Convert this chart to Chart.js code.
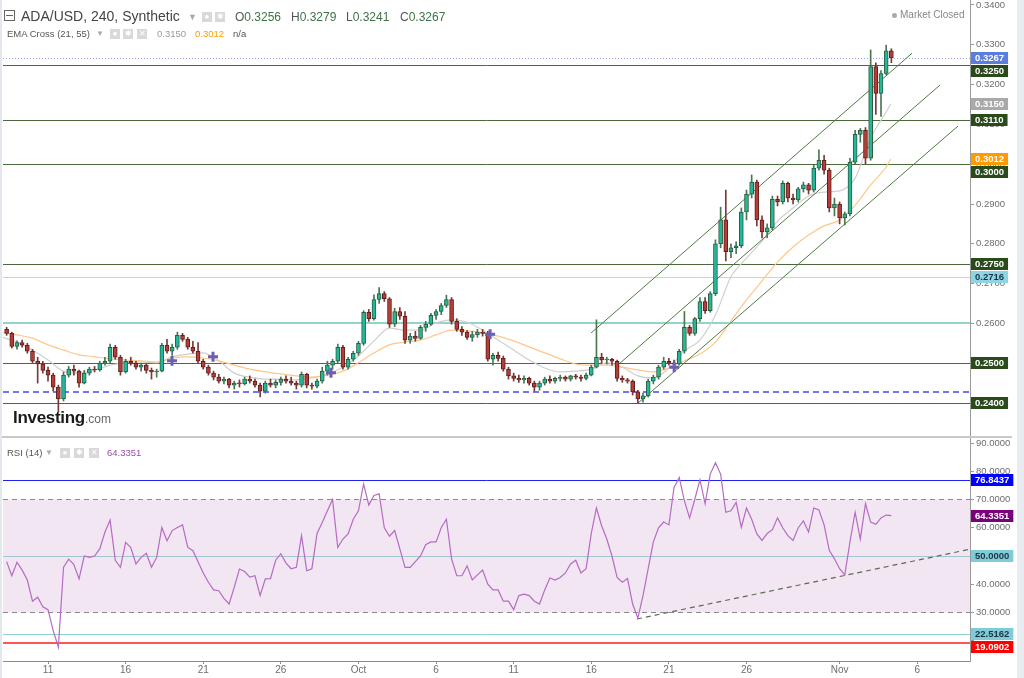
<!DOCTYPE html>
<html>
<head>
<meta charset="utf-8">
<title>ADA/USD, 240</title>
<script src="https://cdn.jsdelivr.net/npm/chart.js@4.4.1/dist/chart.umd.min.js"></script>
<style>
  html, body { margin: 0; padding: 0; background: #fff; }
  #wrap { position: relative; width: 1024px; height: 678px; overflow: hidden;
          font-family: "Liberation Sans", Arial, sans-serif; }
  #wrap canvas { position: absolute; left: 0; }
  #price { top: 0; }
  #rsi { top: 437px; }
  .sep { position: absolute; left: 0; top: 436px; width: 1012px; height: 2px; background: #c9c9c9; }
  .edge-l { position: absolute; left: 0; top: 0; width: 2px; height: 678px; background: #e3e8ee; }
  .edge-r { position: absolute; left: 1017px; top: 0; width: 7px; height: 678px; background: #e8ecf1; }
  .t { position: absolute; white-space: nowrap; color: #555; line-height: 1; }
  .ico { position: absolute; width: 10px; height: 10px; background: #d9d9d9; color: #fff;
         font-size: 8px; line-height: 10px; text-align: center; }
  .val { color: #3f7246; }
</style>
</head>
<body>
<div id="wrap">
  <canvas id="price" width="1018" height="437"></canvas>
  <canvas id="rsi" width="1018" height="241"></canvas>
  <div class="sep"></div>
  <div class="edge-l"></div>
  <div class="edge-r"></div>

  <!-- price header -->
  <div style="position:absolute;left:4px;top:10px;width:9px;height:9px;border:1px solid #666;"></div>
  <div style="position:absolute;left:6px;top:15px;width:7px;height:1px;background:#666;"></div>
  <div class="t" style="left:21px;top:9px;font-size:14px;color:#444;">ADA/USD, 240, Synthetic</div>
  <div class="t" style="left:188px;top:13px;font-size:9px;color:#aaa;">▼</div>
  <div class="ico" style="left:202px;top:12px;">●</div>
  <div class="ico" style="left:215px;top:12px;">✱</div>
  <div class="t" style="left:235px;top:11px;font-size:12px;">O<span class="val">0.3256</span></div>
  <div class="t" style="left:291px;top:11px;font-size:12px;">H<span class="val">0.3279</span></div>
  <div class="t" style="left:346px;top:11px;font-size:12px;">L<span class="val">0.3241</span></div>
  <div class="t" style="left:400px;top:11px;font-size:12px;">C<span class="val">0.3267</span></div>

  <div class="t" style="left:7px;top:29px;font-size:9.5px;">EMA Cross (21, 55)</div>
  <div class="t" style="left:96px;top:30px;font-size:8px;color:#aaa;">▼</div>
  <div class="ico" style="left:110px;top:29px;">●</div>
  <div class="ico" style="left:123px;top:29px;">✱</div>
  <div class="ico" style="left:137px;top:29px;">✕</div>
  <div class="t" style="left:157px;top:29px;font-size:9.5px;color:#9a9a9a;">0.3150</div>
  <div class="t" style="left:195px;top:29px;font-size:9.5px;color:#f5a000;">0.3012</div>
  <div class="t" style="left:233px;top:29px;font-size:9.5px;color:#555;">n/a</div>

  <div style="position:absolute;left:892px;top:13px;width:5px;height:5px;border-radius:50%;background:#aaa;"></div>
  <div class="t" style="left:900px;top:10px;font-size:10px;color:#888;">Market Closed</div>

  <div class="t" style="left:13px;top:409px;font-size:17px;font-weight:bold;color:#1a1a1a;letter-spacing:-0.3px;">Investing<span style="font-size:12px;font-weight:normal;color:#666;letter-spacing:0;">.com</span></div>

  <!-- rsi header -->
  <div class="t" style="left:7px;top:448px;font-size:9.5px;">RSI (14)</div>
  <div class="t" style="left:45px;top:449px;font-size:8px;color:#aaa;">▼</div>
  <div class="ico" style="left:60px;top:448px;">●</div>
  <div class="ico" style="left:74px;top:448px;">✱</div>
  <div class="ico" style="left:89px;top:448px;">✕</div>
  <div class="t" style="left:107px;top:448px;font-size:9.5px;color:#a04cb0;">64.3351</div>
</div>

<script>
// candles are 8h, hours counted from Sep 11 00:00
const startHour = -64;
const stepHours = 8;

const opens = [
  .2585,.2575,.2542,.2552,.2545,.2530,.2505,.2498,.2482,.2470,
  .2440,.2410,.2470,.2485,.2480,.2450,.2475,.2485,.2483,.2500,
  .2505,.2540,.2515,.2478,.2505,.2500,.2490,.2495,.2482,.2478,
  .2480,.2545,.2530,.2540,.2570,.2560,.2540,.2530,.2505,.2490,
  .2475,.2465,.2455,.2460,.2445,.2450,.2448,.2460,.2455,.2445,
  .2430,.2450,.2445,.2452,.2460,.2455,.2450,.2445,.2472,.2445,
  .2442,.2455,.2480,.2495,.2505,.2540,.2490,.2510,.2525,.2550,
  .2628,.2612,.2660,.2675,.2662,.2598,.2630,.2618,.2558,.2568,
  .2562,.2590,.2598,.2620,.2630,.2645,.2660,.2605,.2585,.2578,
  .2565,.2572,.2578,.2575,.2510,.2520,.2512,.2485,.2468,.2462,
  .2458,.2462,.2450,.2440,.2450,.2460,.2455,.2462,.2465,.2460,
  .2468,.2465,.2462,.2470,.2490,.2515,.2508,.2510,.2505,.2462,
  .2458,.2455,.2428,.2410,.2418,.2455,.2465,.2490,.2505,.2500,
  .2498,.2530,.2590,.2575,.2612,.2655,.2632,.2675,.2800,.2860,
  .2780,.2790,.2795,.2880,.2925,.2955,.2860,.2830,.2840,.2912,
  .2905,.2952,.2915,.2910,.2938,.2948,.2935,.2990,.3010,.2985,
  .2890,.2900,.2865,.2875,.3005,.3075,.3085,.3015,.3245,.3178,
  .3228,.3285
];
const highs = [
  .2590,.2578,.2556,.2558,.2550,.2535,.2515,.2505,.2490,.2475,
  .2445,.2478,.2492,.2495,.2483,.2482,.2490,.2492,.2505,.2515,
  .2548,.2545,.2520,.2510,.2515,.2505,.2500,.2498,.2488,.2485,
  .2550,.2560,.2548,.2578,.2575,.2565,.2555,.2552,.2510,.2495,
  .2480,.2472,.2465,.2462,.2455,.2458,.2465,.2468,.2460,.2450,
  .2455,.2460,.2458,.2465,.2468,.2465,.2455,.2478,.2475,.2450,
  .2460,.2490,.2505,.2510,.2548,.2545,.2515,.2530,.2555,.2632,
  .2635,.2672,.2690,.2680,.2665,.2638,.2640,.2630,.2575,.2580,
  .2595,.2605,.2625,.2635,.2650,.2671,.2665,.2612,.2592,.2582,
  .2580,.2585,.2585,.2580,.2525,.2528,.2518,.2490,.2475,.2470,
  .2468,.2465,.2455,.2455,.2465,.2468,.2465,.2470,.2468,.2470,
  .2472,.2470,.2475,.2495,.2609,.2525,.2515,.2512,.2508,.2468,
  .2462,.2458,.2432,.2425,.2460,.2470,.2495,.2515,.2512,.2508,
  .2535,.2630,.2595,.2615,.2665,.2665,.2680,.2810,.2892,.2935,
  .2800,.2805,.2890,.2935,.2973,.2960,.2870,.2850,.2920,.2920,
  .2958,.2955,.2925,.2942,.2955,.2952,.2998,.3036,.3022,.2990,
  .2915,.2905,.2880,.3015,.3085,.3090,.3092,.3287,.3255,.3235,
  .3299,.3290
];
const lows = [
  .2570,.2538,.2535,.2540,.2525,.2500,.2450,.2475,.2455,.2430,
  .2378,.2405,.2465,.2470,.2440,.2448,.2470,.2478,.2480,.2495,
  .2500,.2510,.2470,.2475,.2495,.2485,.2480,.2475,.2460,.2465,
  .2478,.2525,.2520,.2535,.2555,.2535,.2525,.2500,.2485,.2470,
  .2458,.2450,.2448,.2438,.2435,.2440,.2445,.2450,.2440,.2415,
  .2425,.2440,.2438,.2445,.2450,.2445,.2435,.2440,.2438,.2435,
  .2438,.2450,.2470,.2485,.2500,.2485,.2485,.2505,.2520,.2545,
  .2605,.2608,.2650,.2655,.2590,.2592,.2610,.2550,.2550,.2555,
  .2560,.2580,.2595,.2610,.2622,.2640,.2598,.2580,.2570,.2560,
  .2555,.2565,.2568,.2505,.2495,.2505,.2480,.2460,.2455,.2452,
  .2450,.2445,.2430,.2432,.2445,.2450,.2450,.2455,.2455,.2455,
  .2460,.2455,.2458,.2468,.2488,.2500,.2498,.2495,.2455,.2452,
  .2450,.2420,.2400,.2402,.2415,.2448,.2460,.2485,.2495,.2490,
  .2495,.2525,.2570,.2570,.2605,.2625,.2628,.2670,.2790,.2757,
  .2765,.2775,.2790,.2860,.2915,.2845,.2815,.2815,.2835,.2895,
  .2900,.2905,.2900,.2905,.2930,.2925,.2930,.2985,.2975,.2880,
  .2870,.2850,.2847,.2870,.3000,.3055,.3000,.3010,.3125,.3120,
  .3225,.3255
];
const closes = [
  .2575,.2542,.2552,.2545,.2530,.2505,.2498,.2482,.2470,.2440,
  .2410,.2470,.2485,.2480,.2450,.2475,.2485,.2483,.2500,.2505,
  .2540,.2515,.2478,.2505,.2500,.2490,.2495,.2482,.2478,.2480,
  .2545,.2530,.2540,.2570,.2560,.2540,.2530,.2505,.2490,.2475,
  .2465,.2455,.2460,.2445,.2450,.2448,.2460,.2455,.2445,.2430,
  .2450,.2445,.2452,.2460,.2455,.2450,.2445,.2472,.2445,.2442,
  .2455,.2480,.2495,.2505,.2540,.2490,.2510,.2525,.2550,.2628,
  .2612,.2660,.2675,.2662,.2598,.2630,.2618,.2558,.2568,.2562,
  .2590,.2598,.2620,.2630,.2645,.2660,.2605,.2585,.2578,.2565,
  .2572,.2578,.2575,.2510,.2520,.2512,.2485,.2468,.2462,.2458,
  .2462,.2450,.2440,.2450,.2460,.2455,.2462,.2465,.2460,.2468,
  .2465,.2462,.2470,.2490,.2515,.2508,.2510,.2505,.2462,.2458,
  .2455,.2428,.2410,.2418,.2455,.2465,.2490,.2505,.2500,.2498,
  .2530,.2590,.2575,.2612,.2655,.2632,.2675,.2800,.2860,.2780,
  .2790,.2795,.2880,.2925,.2955,.2860,.2830,.2840,.2912,.2905,
  .2952,.2915,.2910,.2938,.2948,.2935,.2990,.3010,.2985,.2890,
  .2900,.2865,.2875,.3005,.3075,.3085,.3015,.3245,.3178,.3228,
  .3285,.3267
];

// RSI(14), one reading per candle
const rsi = [
  48,43,47.8,45,41.5,34,35.4,32,31,23.6,
  17.7,46,48.9,47,41.9,50,49.5,50,52.5,58.4,
  62.7,48.5,46,54.8,53,47.2,49.5,51,46,49.5,
  60.1,55.4,59,60.1,61,53.1,51.9,48,44,40.7,
  38,37.7,35,33,39,45.4,44.5,42.5,43,36,
  41.9,42,48.5,50.8,47.5,45.5,46,57.2,44.8,45.5,
  58,61.9,66,70,53,56,57.8,63,66,75.5,
  68,71.4,72,60,57,59,52.5,46,46,48,
  50,54,55,55,60,63,49,43,43,46.5,
  41.5,43.3,45,40,38,38,34,34,31,36,
  36.5,36,34,33,38,42.2,41.5,42.4,44,47.2,
  48.5,44,45.5,58,67,60.7,56,50,42.4,40.7,
  42,33,28,36,45.5,55,60,62,61,74.3,
  77.8,69.5,63.5,70,77,68.5,79,83,79,65.5,
  66,69,60.1,67,63,57.8,55.5,58,59.3,63.5,
  60,57.2,55.5,60,62.4,58.5,67,66.3,61,52,
  49,45.5,43.3,55,65.5,56,68.5,62,61.2,63.5,
  64.5,64.3
];

// EMA lines, read once a day (days from Sep 11), last point at the final candle
const emaDays = [...Array(58).keys()].map(i => i - 3).concat(54.3);
const ema21 = [
  .2566,.2553,.2533,.2508,.2480,.2475,.2483,.2495,.2501,.2503,
  .2501,.2516,.2523,.2526,.2506,.2475,.2465,.2460,.2460,.2458,
  .2463,.2473,.2490,.2518,.2556,.2588,.2583,.2583,.2601,.2609,
  .2603,.2583,.2558,.2533,.2508,.2488,.2478,.2480,.2485,.2501,
  .2490,.2468,.2463,.2488,.2531,.2558,.2621,.2717,.2764,.2807,
  .2857,.2890,.2920,.2930,.2933,.2965,.3066,.3131,.3151
];
const ema55 = [
  .2578,.2571,.2563,.2546,.2533,.2521,.2516,.2511,.2508,.2506,
  .2503,.2513,.2516,.2513,.2506,.2495,.2485,.2478,.2473,.2468,
  .2465,.2470,.2480,.2501,.2526,.2546,.2553,.2558,.2571,.2583,
  .2581,.2576,.2568,.2556,.2541,.2526,.2511,.2498,.2495,.2495,
  .2490,.2483,.2478,.2488,.2506,.2523,.2553,.2606,.2659,.2707,
  .2754,.2792,.2822,.2845,.2860,.2897,.2948,.2993,.3013
];

// EMA cross markers
const crossDays = [7.99, 10.63, 18.23, 28.48, 40.34];
const crossPrices = [.2506, .2516, .2476, .2573, .2490];

// rising channel: three parallel lines, [startDay, startPrice, endDay, endPrice]
const channelLines = [
  [34.99, .2576, 55.67, .3279],
  [36.73, .2496, 57.47, .3199],
  [38.02, .2400, 58.63, .3096]
];

// horizontal levels
const supportLevels = [.3250, .3110, .3000, .2750, .2500, .2400];
const tealLevels = [.2716, .2600];
const dashedLevel = .2427;
const lastClose = .3267;
const emaLast = [.3150, .3012];

// RSI panel levels
const rsiBand = [30, 70];
const rsiLevels = [76.8437, 50, 22.5162, 19.0902];
const rsiLast = 64.3351;
const rsiTrendDays = [37.95, 59.4];
const rsiTrendValues = [27.7, 52.4];

// date axis (days from Sep 11)
const tickDays = [0, 5, 10, 15, 20, 25, 30, 35, 40, 45, 51, 56];
const tickLabels = ['11', '16', '21', '26', 'Oct', '6', '11', '16', '21', '26', 'Nov', '6'];

const xMin = -2.9, xMax = 59.4;

Chart.defaults.font.family = '"Liberation Sans", Arial, sans-serif';
Chart.defaults.animation = false;

const candleDay = i => (startHour + i * stepHours) / 24;
const isUp = i => closes[i] >= opens[i];

function hLine(ctx, area, py, color, width, dash) {
  const y = Math.round(py) + (width % 2 ? 0.5 : 0);
  ctx.save();
  ctx.strokeStyle = color;
  ctx.lineWidth = width;
  ctx.setLineDash(dash || []);
  ctx.beginPath();
  ctx.moveTo(area.left, y);
  ctx.lineTo(area.right, y);
  ctx.stroke();
  ctx.restore();
}

function drawTags(chart, tags) {
  const { ctx, chartArea: a, scales: { y } } = chart;
  const h = 12, gap = 1;
  let prevBottom = -1e9;
  ctx.save();
  ctx.font = 'bold 9.5px "Liberation Sans", Arial, sans-serif';
  ctx.textBaseline = 'middle';
  ctx.textAlign = 'left';
  tags.forEach(tag => {
    let cy = y.getPixelForValue(tag.v);
    if (cy - h / 2 < prevBottom + gap) cy = prevBottom + gap + h / 2;
    prevBottom = cy + h / 2;
    const text = tag.v.toFixed(4);
    const w = ctx.measureText(text).width + 8;
    ctx.fillStyle = tag.bg;
    ctx.fillRect(a.right + 1, Math.round(cy - h / 2), w, h);
    ctx.fillStyle = tag.fg;
    ctx.fillText(text, a.right + 5, Math.round(cy) + 0.5);
  });
  ctx.restore();
}

// keep the plot edge to edge: no extra room for the end labels
function fitRightAxis(s) {
  s.width = 48;
  s.paddingTop = 0;
  s.paddingBottom = 0;
}

const priceTags = [
  { v: lastClose, bg: '#5a7de0', fg: '#fff' },
  ...supportLevels.map(v => ({ v, bg: '#2b4a1b', fg: '#fff' })),
  { v: emaLast[0], bg: '#a9a9a9', fg: '#fff' },
  { v: emaLast[1], bg: '#ff9a00', fg: '#fff' },
  { v: tealLevels[0], bg: '#8ed5e4', fg: '#1c3440' }
].sort((a, b) => b.v - a.v);

const rsiTags = [
  { v: rsiLevels[0], bg: '#0000ff', fg: '#fff' },
  { v: rsiLast, bg: '#7b007b', fg: '#fff' },
  { v: rsiLevels[1], bg: '#80cbd8', fg: '#1c3440' },
  { v: rsiLevels[2], bg: '#80cbd8', fg: '#1c3440' },
  { v: rsiLevels[3], bg: '#ff0000', fg: '#fff' }
].sort((a, b) => b.v - a.v);

const priceLevelsPlugin = {
  id: 'priceLevels',
  beforeDatasetsDraw(chart) {
    const { ctx, chartArea: a, scales: { y } } = chart;
    hLine(ctx, a, y.getPixelForValue(tealLevels[1]), '#93d4c8', 2);
    hLine(ctx, a, y.getPixelForValue(tealLevels[0]), '#a6e0ea', 1);
    supportLevels.forEach(v => hLine(ctx, a, y.getPixelForValue(v), '#4a6a3c', 1));
    hLine(ctx, a, y.getPixelForValue(dashedLevel), '#7474f4', 2, [6, 4]);
    hLine(ctx, a, y.getPixelForValue(lastClose), '#97aaf0', 1, [1, 2]);
  },
  afterDraw(chart) { drawTags(chart, priceTags); }
};

const rsiPlugin = {
  id: 'rsiBands',
  beforeDatasetsDraw(chart) {
    const { ctx, chartArea: a, scales: { y } } = chart;
    const yTop = y.getPixelForValue(rsiBand[1]);
    const yBot = y.getPixelForValue(rsiBand[0]);
    ctx.save();
    ctx.fillStyle = '#f2e6f2';
    ctx.fillRect(a.left, yTop, a.right - a.left, yBot - yTop);
    ctx.restore();
    hLine(ctx, a, yTop, '#8a8a8a', 1, [5, 4]);
    hLine(ctx, a, yBot, '#8a8a8a', 1, [5, 4]);
    hLine(ctx, a, y.getPixelForValue(rsiLevels[0]), '#2020f0', 1);
    hLine(ctx, a, y.getPixelForValue(rsiLevels[1]), '#a2c6ce', 1);
    hLine(ctx, a, y.getPixelForValue(rsiLevels[2]), '#8ccfd0', 1);
    hLine(ctx, a, y.getPixelForValue(rsiLevels[3]), '#ff5555', 2);
  },
  afterDraw(chart) { drawTags(chart, rsiTags); }
};

const yTicks = {
  padding: 2,
  color: '#6d6d6d',
  font: { size: 9.5 },
  includeBounds: false
};

new Chart(document.getElementById('price'), {
  type: 'bar',
  data: {
    datasets: [
      {
        type: 'line', order: 4,
        data: ema55.map((v, i) => ({ x: emaDays[i], y: v })),
        borderColor: '#ffc78a', borderWidth: 1.2, pointRadius: 0,
        cubicInterpolationMode: 'monotone'
      },
      {
        type: 'line', order: 4,
        data: ema21.map((v, i) => ({ x: emaDays[i], y: v })),
        borderColor: '#cfcfcf', borderWidth: 1.2, pointRadius: 0,
        cubicInterpolationMode: 'monotone'
      },
      ...channelLines.map(c => ({
        type: 'line', order: 3,
        data: [{ x: c[0], y: c[1] }, { x: c[2], y: c[3] }],
        borderColor: '#4f7a43', borderWidth: 1, pointRadius: 0
      })),
      {
        type: 'bar', order: 2, grouped: false,
        data: highs.map((h, i) => ({ x: candleDay(i), y: [lows[i], h] })),
        backgroundColor: c => isUp(c.dataIndex) ? '#4c7552' : '#763a38',
        barThickness: 1, minBarLength: 1
      },
      {
        type: 'bar', order: 1, grouped: false,
        data: opens.map((o, i) => ({ x: candleDay(i), y: [o, closes[i]] })),
        backgroundColor: c => isUp(c.dataIndex) ? '#22b89c' : '#b53d37',
        borderColor: c => isUp(c.dataIndex) ? '#2f5b3c' : '#5c1f1e',
        borderWidth: 1, borderSkipped: false,
        barThickness: 4, minBarLength: 1
      },
      {
        type: 'line', order: 0, showLine: false,
        data: crossDays.map((d, i) => ({ x: d, y: crossPrices[i] })),
        pointStyle: 'cross', pointRadius: 5, pointBorderWidth: 3,
        pointBorderColor: '#6a5fb4', borderColor: '#6a5fb4'
      }
    ]
  },
  options: {
    responsive: false,
    devicePixelRatio: 1,
    events: [],
    layout: { autoPadding: false, padding: { left: 3, top: 0, right: 0, bottom: 1 } },
    plugins: { legend: { display: false }, tooltip: { enabled: false } },
    scales: {
      x: { type: 'linear', min: xMin, max: xMax, display: false, offset: false, grid: { offset: false } },
      y: {
        type: 'linear', position: 'right', min: 0.231709, max: 0.341256,
        afterFit: fitRightAxis,
        border: { color: '#9a9a9a' },
        grid: { drawOnChartArea: false, tickLength: 4, color: '#9a9a9a' },
        ticks: { ...yTicks, stepSize: 0.01, callback: v => v.toFixed(4) }
      }
    }
  },
  plugins: [priceLevelsPlugin]
});

new Chart(document.getElementById('rsi'), {
  type: 'line',
  data: {
    datasets: [
      {
        data: rsi.map((v, i) => ({ x: candleDay(i), y: v })),
        borderColor: '#b56bc3', borderWidth: 1.2, pointRadius: 0, tension: 0
      },
      {
        data: rsiTrendDays.map((d, i) => ({ x: d, y: rsiTrendValues[i] })),
        borderColor: '#5d6b55', borderWidth: 1.2, borderDash: [5, 4], pointRadius: 0
      }
    ]
  },
  options: {
    responsive: false,
    devicePixelRatio: 1,
    events: [],
    layout: { autoPadding: false, padding: { left: 3, top: 1, right: 0, bottom: 0 } },
    plugins: { legend: { display: false }, tooltip: { enabled: false } },
    scales: {
      x: {
        type: 'linear', min: xMin, max: xMax, offset: false, position: 'bottom',
        afterFit: s => { s.height = 17; s.paddingLeft = 0; s.paddingRight = 0; },
        afterBuildTicks: s => { s.ticks = tickDays.map(v => ({ value: v })); },
        border: { color: '#8c8c8c' },
        grid: { drawOnChartArea: false, tickLength: 3, color: '#8c8c8c' },
        ticks: {
          autoSkip: false, maxRotation: 0, padding: 0, color: '#6d6d6d', font: { size: 10 },
          callback: v => tickLabels[tickDays.indexOf(v)]
        }
      },
      y: {
        type: 'linear', position: 'right', min: 12.83, max: 91.77,
        afterFit: fitRightAxis,
        border: { color: '#9a9a9a' },
        grid: { drawOnChartArea: false, tickLength: 4, color: '#9a9a9a' },
        ticks: { ...yTicks, stepSize: 10, callback: v => v < 25 ? '' : v.toFixed(4) }
      }
    }
  },
  plugins: [rsiPlugin]
});
</script>
</body>
</html>
